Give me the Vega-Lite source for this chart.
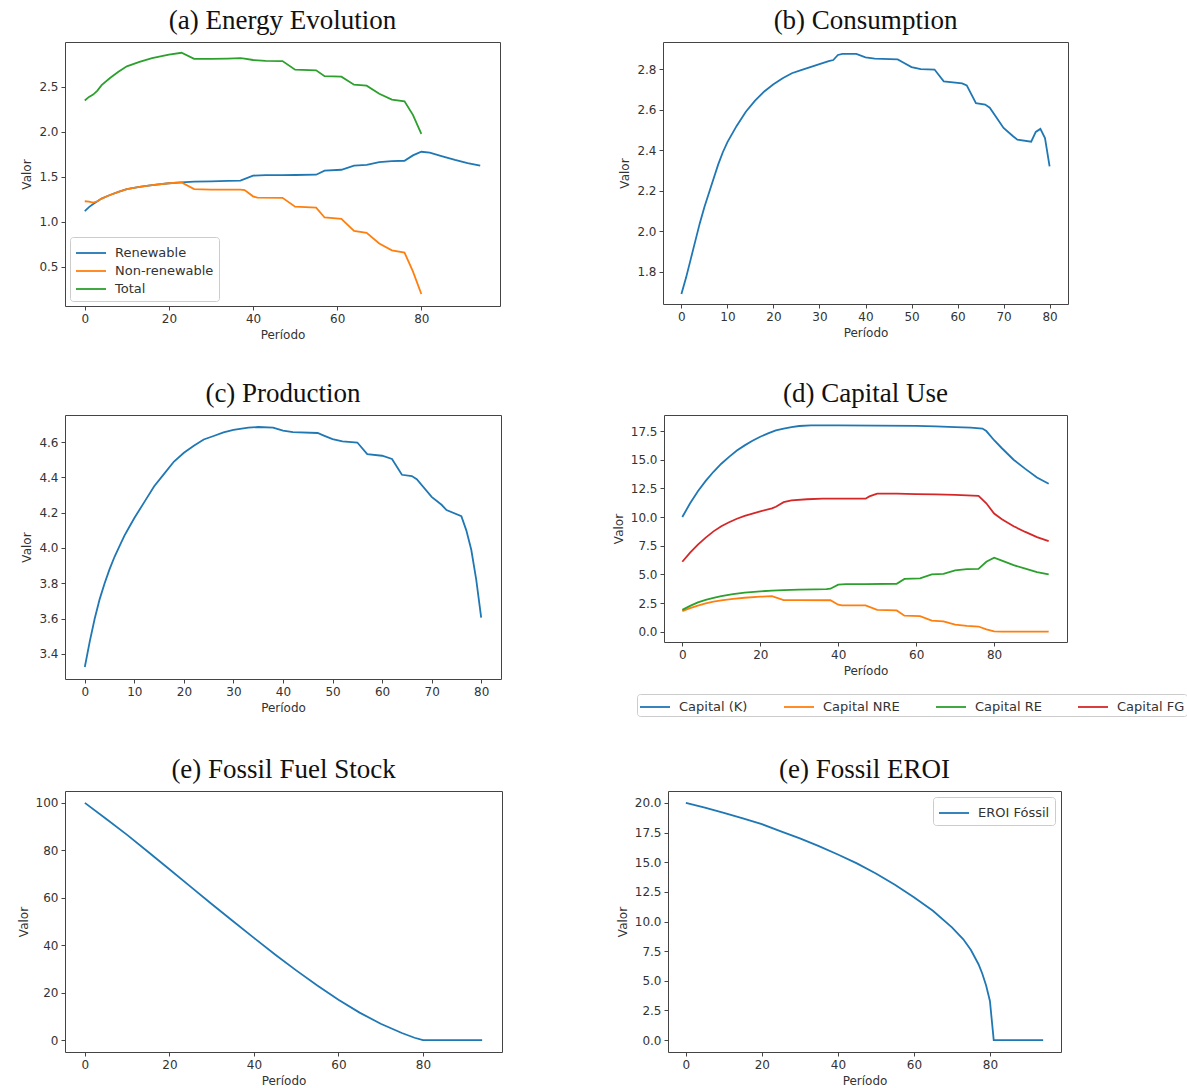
{
  "$schema": "https://vega.github.io/schema/vega-lite/v6.json",
  "background": "white",
  "padding": {"left": 16, "top": 6, "right": 2, "bottom": 0},
  "resolve": {"scale": {"color": "independent", "x": "independent", "y": "independent"}, "legend": {"color": "independent"}},
  "config": {
    "view": {"stroke": "#444", "strokeWidth": 1},
    "axis": {"grid": false, "domain": false, "tickColor": "#444", "tickSize": 4, "labelFont": "DejaVu Sans", "labelFontSize": 12, "labelColor": "#333", "titleFont": "DejaVu Sans", "titleFontSize": 12, "titleFontWeight": "normal", "titleColor": "#333", "labelPadding": 3, "titlePadding": 5},
    "title": {"font": "Liberation Serif", "fontSize": 27, "fontWeight": "normal", "color": "#111", "offset": 7, "frame": "group", "anchor": "middle"},
    "legend": {"labelFont": "DejaVu Sans", "labelFontSize": 13, "labelColor": "#333", "symbolType": "M-1,0L2,0", "symbolSize": 400, "symbolStrokeWidth": 2, "strokeColor": "#ccc", "fillColor": "white", "cornerRadius": 3, "padding": 5, "rowPadding": -3, "labelOffset": 18, "title": null},
    "line": {"strokeWidth": 1.8}
  },
  "datasets": {
    "energia": [
      {"Periodo": 0, "Serie": "Renewable", "Valor": 1.12}, {"Periodo": 1, "Serie": "Renewable", "Valor": 1.165}, {"Periodo": 2, "Serie": "Renewable", "Valor": 1.2}, {"Periodo": 3, "Serie": "Renewable", "Valor": 1.23}, {"Periodo": 4, "Serie": "Renewable", "Valor": 1.26}, {"Periodo": 6, "Serie": "Renewable", "Valor": 1.3}, {"Periodo": 8, "Serie": "Renewable", "Valor": 1.335}, {"Periodo": 10, "Serie": "Renewable", "Valor": 1.365}, {"Periodo": 13, "Serie": "Renewable", "Valor": 1.39}, {"Periodo": 16, "Serie": "Renewable", "Valor": 1.41}, {"Periodo": 20, "Serie": "Renewable", "Valor": 1.43}, {"Periodo": 23, "Serie": "Renewable", "Valor": 1.44}, {"Periodo": 26, "Serie": "Renewable", "Valor": 1.448}, {"Periodo": 30, "Serie": "Renewable", "Valor": 1.452}, {"Periodo": 34, "Serie": "Renewable", "Valor": 1.456}, {"Periodo": 37, "Serie": "Renewable", "Valor": 1.46}, {"Periodo": 40, "Serie": "Renewable", "Valor": 1.515}, {"Periodo": 43, "Serie": "Renewable", "Valor": 1.52}, {"Periodo": 47, "Serie": "Renewable", "Valor": 1.52}, {"Periodo": 50, "Serie": "Renewable", "Valor": 1.522}, {"Periodo": 55, "Serie": "Renewable", "Valor": 1.525}, {"Periodo": 57, "Serie": "Renewable", "Valor": 1.57}, {"Periodo": 61, "Serie": "Renewable", "Valor": 1.58}, {"Periodo": 64, "Serie": "Renewable", "Valor": 1.625}, {"Periodo": 67, "Serie": "Renewable", "Valor": 1.635}, {"Periodo": 70, "Serie": "Renewable", "Valor": 1.665}, {"Periodo": 73, "Serie": "Renewable", "Valor": 1.675}, {"Periodo": 76, "Serie": "Renewable", "Valor": 1.68}, {"Periodo": 78, "Serie": "Renewable", "Valor": 1.74}, {"Periodo": 80, "Serie": "Renewable", "Valor": 1.78}, {"Periodo": 82, "Serie": "Renewable", "Valor": 1.77}, {"Periodo": 85, "Serie": "Renewable", "Valor": 1.73}, {"Periodo": 88, "Serie": "Renewable", "Valor": 1.69}, {"Periodo": 91, "Serie": "Renewable", "Valor": 1.655}, {"Periodo": 94, "Serie": "Renewable", "Valor": 1.625},
      {"Periodo": 0, "Serie": "Non-renewable", "Valor": 1.23}, {"Periodo": 1, "Serie": "Non-renewable", "Valor": 1.225}, {"Periodo": 2, "Serie": "Non-renewable", "Valor": 1.215}, {"Periodo": 3, "Serie": "Non-renewable", "Valor": 1.23}, {"Periodo": 4, "Serie": "Non-renewable", "Valor": 1.26}, {"Periodo": 6, "Serie": "Non-renewable", "Valor": 1.3}, {"Periodo": 8, "Serie": "Non-renewable", "Valor": 1.335}, {"Periodo": 10, "Serie": "Non-renewable", "Valor": 1.365}, {"Periodo": 13, "Serie": "Non-renewable", "Valor": 1.39}, {"Periodo": 16, "Serie": "Non-renewable", "Valor": 1.41}, {"Periodo": 20, "Serie": "Non-renewable", "Valor": 1.43}, {"Periodo": 23, "Serie": "Non-renewable", "Valor": 1.44}, {"Periodo": 26, "Serie": "Non-renewable", "Valor": 1.365}, {"Periodo": 30, "Serie": "Non-renewable", "Valor": 1.36}, {"Periodo": 34, "Serie": "Non-renewable", "Valor": 1.36}, {"Periodo": 37, "Serie": "Non-renewable", "Valor": 1.36}, {"Periodo": 38, "Serie": "Non-renewable", "Valor": 1.355}, {"Periodo": 40, "Serie": "Non-renewable", "Valor": 1.285}, {"Periodo": 41, "Serie": "Non-renewable", "Valor": 1.27}, {"Periodo": 47, "Serie": "Non-renewable", "Valor": 1.268}, {"Periodo": 50, "Serie": "Non-renewable", "Valor": 1.17}, {"Periodo": 55, "Serie": "Non-renewable", "Valor": 1.16}, {"Periodo": 57, "Serie": "Non-renewable", "Valor": 1.05}, {"Periodo": 61, "Serie": "Non-renewable", "Valor": 1.035}, {"Periodo": 64, "Serie": "Non-renewable", "Valor": 0.9}, {"Periodo": 67, "Serie": "Non-renewable", "Valor": 0.88}, {"Periodo": 70, "Serie": "Non-renewable", "Valor": 0.76}, {"Periodo": 73, "Serie": "Non-renewable", "Valor": 0.685}, {"Periodo": 76, "Serie": "Non-renewable", "Valor": 0.66}, {"Periodo": 78, "Serie": "Non-renewable", "Valor": 0.45}, {"Periodo": 80, "Serie": "Non-renewable", "Valor": 0.2},
      {"Periodo": 0, "Serie": "Total", "Valor": 2.35}, {"Periodo": 1, "Serie": "Total", "Valor": 2.39}, {"Periodo": 2, "Serie": "Total", "Valor": 2.415}, {"Periodo": 3, "Serie": "Total", "Valor": 2.46}, {"Periodo": 4, "Serie": "Total", "Valor": 2.52}, {"Periodo": 6, "Serie": "Total", "Valor": 2.6}, {"Periodo": 8, "Serie": "Total", "Valor": 2.67}, {"Periodo": 10, "Serie": "Total", "Valor": 2.73}, {"Periodo": 13, "Serie": "Total", "Valor": 2.78}, {"Periodo": 16, "Serie": "Total", "Valor": 2.82}, {"Periodo": 20, "Serie": "Total", "Valor": 2.86}, {"Periodo": 23, "Serie": "Total", "Valor": 2.88}, {"Periodo": 26, "Serie": "Total", "Valor": 2.813}, {"Periodo": 30, "Serie": "Total", "Valor": 2.812}, {"Periodo": 34, "Serie": "Total", "Valor": 2.816}, {"Periodo": 37, "Serie": "Total", "Valor": 2.82}, {"Periodo": 38, "Serie": "Total", "Valor": 2.815}, {"Periodo": 40, "Serie": "Total", "Valor": 2.8}, {"Periodo": 43, "Serie": "Total", "Valor": 2.79}, {"Periodo": 47, "Serie": "Total", "Valor": 2.788}, {"Periodo": 50, "Serie": "Total", "Valor": 2.692}, {"Periodo": 55, "Serie": "Total", "Valor": 2.685}, {"Periodo": 57, "Serie": "Total", "Valor": 2.62}, {"Periodo": 61, "Serie": "Total", "Valor": 2.615}, {"Periodo": 64, "Serie": "Total", "Valor": 2.525}, {"Periodo": 67, "Serie": "Total", "Valor": 2.515}, {"Periodo": 70, "Serie": "Total", "Valor": 2.425}, {"Periodo": 73, "Serie": "Total", "Valor": 2.36}, {"Periodo": 76, "Serie": "Total", "Valor": 2.34}, {"Periodo": 78, "Serie": "Total", "Valor": 2.19}, {"Periodo": 80, "Serie": "Total", "Valor": 1.98}
    ],
    "consumo": [
      {"Periodo": 0, "Valor": 1.69}, {"Periodo": 1, "Valor": 1.77}, {"Periodo": 2, "Valor": 1.86}, {"Periodo": 3, "Valor": 1.95}, {"Periodo": 4, "Valor": 2.04}, {"Periodo": 5, "Valor": 2.12}, {"Periodo": 6, "Valor": 2.19}, {"Periodo": 7, "Valor": 2.26}, {"Periodo": 8, "Valor": 2.33}, {"Periodo": 9, "Valor": 2.39}, {"Periodo": 10, "Valor": 2.44}, {"Periodo": 12, "Valor": 2.52}, {"Periodo": 14, "Valor": 2.59}, {"Periodo": 16, "Valor": 2.645}, {"Periodo": 18, "Valor": 2.69}, {"Periodo": 20, "Valor": 2.725}, {"Periodo": 22, "Valor": 2.755}, {"Periodo": 24, "Valor": 2.78}, {"Periodo": 26, "Valor": 2.795}, {"Periodo": 28, "Valor": 2.81}, {"Periodo": 30, "Valor": 2.825}, {"Periodo": 32, "Valor": 2.84}, {"Periodo": 33, "Valor": 2.845}, {"Periodo": 34, "Valor": 2.87}, {"Periodo": 35, "Valor": 2.875}, {"Periodo": 38, "Valor": 2.875}, {"Periodo": 40, "Valor": 2.858}, {"Periodo": 42, "Valor": 2.852}, {"Periodo": 47, "Valor": 2.848}, {"Periodo": 48, "Valor": 2.835}, {"Periodo": 50, "Valor": 2.81}, {"Periodo": 52, "Valor": 2.8}, {"Periodo": 55, "Valor": 2.798}, {"Periodo": 57, "Valor": 2.74}, {"Periodo": 61, "Valor": 2.73}, {"Periodo": 62, "Valor": 2.72}, {"Periodo": 64, "Valor": 2.632}, {"Periodo": 66, "Valor": 2.625}, {"Periodo": 67, "Valor": 2.61}, {"Periodo": 70, "Valor": 2.51}, {"Periodo": 72, "Valor": 2.47}, {"Periodo": 73, "Valor": 2.452}, {"Periodo": 76, "Valor": 2.442}, {"Periodo": 77, "Valor": 2.49}, {"Periodo": 78, "Valor": 2.505}, {"Periodo": 79, "Valor": 2.46}, {"Periodo": 80, "Valor": 2.32}
    ],
    "producao": [
      {"Periodo": 0, "Valor": 3.325}, {"Periodo": 1, "Valor": 3.47}, {"Periodo": 2, "Valor": 3.6}, {"Periodo": 3, "Valor": 3.71}, {"Periodo": 4, "Valor": 3.8}, {"Periodo": 5, "Valor": 3.88}, {"Periodo": 6, "Valor": 3.95}, {"Periodo": 7, "Valor": 4.01}, {"Periodo": 8, "Valor": 4.07}, {"Periodo": 9, "Valor": 4.12}, {"Periodo": 10, "Valor": 4.17}, {"Periodo": 12, "Valor": 4.26}, {"Periodo": 14, "Valor": 4.35}, {"Periodo": 16, "Valor": 4.42}, {"Periodo": 18, "Valor": 4.49}, {"Periodo": 20, "Valor": 4.54}, {"Periodo": 22, "Valor": 4.58}, {"Periodo": 24, "Valor": 4.615}, {"Periodo": 26, "Valor": 4.635}, {"Periodo": 28, "Valor": 4.655}, {"Periodo": 30, "Valor": 4.67}, {"Periodo": 33, "Valor": 4.682}, {"Periodo": 35, "Valor": 4.686}, {"Periodo": 38, "Valor": 4.683}, {"Periodo": 40, "Valor": 4.665}, {"Periodo": 42, "Valor": 4.657}, {"Periodo": 47, "Valor": 4.652}, {"Periodo": 48, "Valor": 4.64}, {"Periodo": 50, "Valor": 4.617}, {"Periodo": 52, "Valor": 4.605}, {"Periodo": 55, "Valor": 4.598}, {"Periodo": 57, "Valor": 4.532}, {"Periodo": 60, "Valor": 4.523}, {"Periodo": 62, "Valor": 4.505}, {"Periodo": 64, "Valor": 4.415}, {"Periodo": 66, "Valor": 4.408}, {"Periodo": 67, "Valor": 4.39}, {"Periodo": 70, "Valor": 4.29}, {"Periodo": 72, "Valor": 4.245}, {"Periodo": 73, "Valor": 4.215}, {"Periodo": 76, "Valor": 4.18}, {"Periodo": 77, "Valor": 4.1}, {"Periodo": 78, "Valor": 3.99}, {"Periodo": 79, "Valor": 3.82}, {"Periodo": 80, "Valor": 3.605}
    ],
    "capital": [
      {"Periodo": 0, "Serie": "Capital (K)", "Valor": 10.0}, {"Periodo": 2, "Serie": "Capital (K)", "Valor": 11.2}, {"Periodo": 4, "Serie": "Capital (K)", "Valor": 12.25}, {"Periodo": 6, "Serie": "Capital (K)", "Valor": 13.15}, {"Periodo": 8, "Serie": "Capital (K)", "Valor": 13.95}, {"Periodo": 10, "Serie": "Capital (K)", "Valor": 14.65}, {"Periodo": 12, "Serie": "Capital (K)", "Valor": 15.25}, {"Periodo": 14, "Serie": "Capital (K)", "Valor": 15.8}, {"Periodo": 16, "Serie": "Capital (K)", "Valor": 16.25}, {"Periodo": 18, "Serie": "Capital (K)", "Valor": 16.65}, {"Periodo": 20, "Serie": "Capital (K)", "Valor": 17.0}, {"Periodo": 22, "Serie": "Capital (K)", "Valor": 17.3}, {"Periodo": 24, "Serie": "Capital (K)", "Valor": 17.55}, {"Periodo": 26, "Serie": "Capital (K)", "Valor": 17.72}, {"Periodo": 28, "Serie": "Capital (K)", "Valor": 17.85}, {"Periodo": 30, "Serie": "Capital (K)", "Valor": 17.94}, {"Periodo": 33, "Serie": "Capital (K)", "Valor": 18.0}, {"Periodo": 40, "Serie": "Capital (K)", "Valor": 18.0}, {"Periodo": 50, "Serie": "Capital (K)", "Valor": 17.98}, {"Periodo": 60, "Serie": "Capital (K)", "Valor": 17.95}, {"Periodo": 65, "Serie": "Capital (K)", "Valor": 17.9}, {"Periodo": 70, "Serie": "Capital (K)", "Valor": 17.85}, {"Periodo": 74, "Serie": "Capital (K)", "Valor": 17.8}, {"Periodo": 77, "Serie": "Capital (K)", "Valor": 17.72}, {"Periodo": 78, "Serie": "Capital (K)", "Valor": 17.5}, {"Periodo": 80, "Serie": "Capital (K)", "Valor": 16.7}, {"Periodo": 82, "Serie": "Capital (K)", "Valor": 16.0}, {"Periodo": 85, "Serie": "Capital (K)", "Valor": 15.0}, {"Periodo": 88, "Serie": "Capital (K)", "Valor": 14.2}, {"Periodo": 91, "Serie": "Capital (K)", "Valor": 13.45}, {"Periodo": 94, "Serie": "Capital (K)", "Valor": 12.9},
      {"Periodo": 0, "Serie": "Capital NRE", "Valor": 1.8}, {"Periodo": 2, "Serie": "Capital NRE", "Valor": 2.05}, {"Periodo": 4, "Serie": "Capital NRE", "Valor": 2.28}, {"Periodo": 6, "Serie": "Capital NRE", "Valor": 2.47}, {"Periodo": 8, "Serie": "Capital NRE", "Valor": 2.62}, {"Periodo": 10, "Serie": "Capital NRE", "Valor": 2.74}, {"Periodo": 13, "Serie": "Capital NRE", "Valor": 2.87}, {"Periodo": 16, "Serie": "Capital NRE", "Valor": 2.96}, {"Periodo": 20, "Serie": "Capital NRE", "Valor": 3.05}, {"Periodo": 23, "Serie": "Capital NRE", "Valor": 3.1}, {"Periodo": 26, "Serie": "Capital NRE", "Valor": 2.75}, {"Periodo": 30, "Serie": "Capital NRE", "Valor": 2.75}, {"Periodo": 38, "Serie": "Capital NRE", "Valor": 2.74}, {"Periodo": 40, "Serie": "Capital NRE", "Valor": 2.35}, {"Periodo": 41, "Serie": "Capital NRE", "Valor": 2.3}, {"Periodo": 47, "Serie": "Capital NRE", "Valor": 2.3}, {"Periodo": 50, "Serie": "Capital NRE", "Valor": 1.9}, {"Periodo": 55, "Serie": "Capital NRE", "Valor": 1.85}, {"Periodo": 57, "Serie": "Capital NRE", "Valor": 1.4}, {"Periodo": 61, "Serie": "Capital NRE", "Valor": 1.35}, {"Periodo": 64, "Serie": "Capital NRE", "Valor": 0.97}, {"Periodo": 67, "Serie": "Capital NRE", "Valor": 0.9}, {"Periodo": 70, "Serie": "Capital NRE", "Valor": 0.62}, {"Periodo": 73, "Serie": "Capital NRE", "Valor": 0.5}, {"Periodo": 76, "Serie": "Capital NRE", "Valor": 0.45}, {"Periodo": 78, "Serie": "Capital NRE", "Valor": 0.2}, {"Periodo": 80, "Serie": "Capital NRE", "Valor": 0.03}, {"Periodo": 82, "Serie": "Capital NRE", "Valor": 0.0}, {"Periodo": 94, "Serie": "Capital NRE", "Valor": 0.0},
      {"Periodo": 0, "Serie": "Capital RE", "Valor": 1.9}, {"Periodo": 2, "Serie": "Capital RE", "Valor": 2.25}, {"Periodo": 4, "Serie": "Capital RE", "Valor": 2.55}, {"Periodo": 6, "Serie": "Capital RE", "Valor": 2.78}, {"Periodo": 8, "Serie": "Capital RE", "Valor": 2.95}, {"Periodo": 10, "Serie": "Capital RE", "Valor": 3.1}, {"Periodo": 13, "Serie": "Capital RE", "Valor": 3.27}, {"Periodo": 16, "Serie": "Capital RE", "Valor": 3.4}, {"Periodo": 20, "Serie": "Capital RE", "Valor": 3.52}, {"Periodo": 23, "Serie": "Capital RE", "Valor": 3.58}, {"Periodo": 26, "Serie": "Capital RE", "Valor": 3.63}, {"Periodo": 30, "Serie": "Capital RE", "Valor": 3.66}, {"Periodo": 34, "Serie": "Capital RE", "Valor": 3.69}, {"Periodo": 37, "Serie": "Capital RE", "Valor": 3.71}, {"Periodo": 38, "Serie": "Capital RE", "Valor": 3.75}, {"Periodo": 40, "Serie": "Capital RE", "Valor": 4.1}, {"Periodo": 42, "Serie": "Capital RE", "Valor": 4.15}, {"Periodo": 47, "Serie": "Capital RE", "Valor": 4.15}, {"Periodo": 55, "Serie": "Capital RE", "Valor": 4.18}, {"Periodo": 57, "Serie": "Capital RE", "Valor": 4.6}, {"Periodo": 61, "Serie": "Capital RE", "Valor": 4.65}, {"Periodo": 64, "Serie": "Capital RE", "Valor": 5.0}, {"Periodo": 67, "Serie": "Capital RE", "Valor": 5.05}, {"Periodo": 70, "Serie": "Capital RE", "Valor": 5.35}, {"Periodo": 73, "Serie": "Capital RE", "Valor": 5.45}, {"Periodo": 76, "Serie": "Capital RE", "Valor": 5.48}, {"Periodo": 78, "Serie": "Capital RE", "Valor": 6.1}, {"Periodo": 80, "Serie": "Capital RE", "Valor": 6.45}, {"Periodo": 82, "Serie": "Capital RE", "Valor": 6.2}, {"Periodo": 85, "Serie": "Capital RE", "Valor": 5.8}, {"Periodo": 88, "Serie": "Capital RE", "Valor": 5.5}, {"Periodo": 91, "Serie": "Capital RE", "Valor": 5.2}, {"Periodo": 94, "Serie": "Capital RE", "Valor": 5.0},
      {"Periodo": 0, "Serie": "Capital FG", "Valor": 6.1}, {"Periodo": 2, "Serie": "Capital FG", "Valor": 6.9}, {"Periodo": 4, "Serie": "Capital FG", "Valor": 7.6}, {"Periodo": 6, "Serie": "Capital FG", "Valor": 8.2}, {"Periodo": 8, "Serie": "Capital FG", "Valor": 8.75}, {"Periodo": 10, "Serie": "Capital FG", "Valor": 9.2}, {"Periodo": 12, "Serie": "Capital FG", "Valor": 9.55}, {"Periodo": 14, "Serie": "Capital FG", "Valor": 9.85}, {"Periodo": 16, "Serie": "Capital FG", "Valor": 10.1}, {"Periodo": 18, "Serie": "Capital FG", "Valor": 10.3}, {"Periodo": 20, "Serie": "Capital FG", "Valor": 10.5}, {"Periodo": 23, "Serie": "Capital FG", "Valor": 10.75}, {"Periodo": 24, "Serie": "Capital FG", "Valor": 10.9}, {"Periodo": 26, "Serie": "Capital FG", "Valor": 11.3}, {"Periodo": 28, "Serie": "Capital FG", "Valor": 11.45}, {"Periodo": 32, "Serie": "Capital FG", "Valor": 11.55}, {"Periodo": 36, "Serie": "Capital FG", "Valor": 11.6}, {"Periodo": 47, "Serie": "Capital FG", "Valor": 11.6}, {"Periodo": 48, "Serie": "Capital FG", "Valor": 11.8}, {"Periodo": 50, "Serie": "Capital FG", "Valor": 12.05}, {"Periodo": 55, "Serie": "Capital FG", "Valor": 12.05}, {"Periodo": 60, "Serie": "Capital FG", "Valor": 12.0}, {"Periodo": 65, "Serie": "Capital FG", "Valor": 11.98}, {"Periodo": 70, "Serie": "Capital FG", "Valor": 11.93}, {"Periodo": 76, "Serie": "Capital FG", "Valor": 11.85}, {"Periodo": 78, "Serie": "Capital FG", "Valor": 11.2}, {"Periodo": 80, "Serie": "Capital FG", "Valor": 10.3}, {"Periodo": 82, "Serie": "Capital FG", "Valor": 9.8}, {"Periodo": 85, "Serie": "Capital FG", "Valor": 9.2}, {"Periodo": 88, "Serie": "Capital FG", "Valor": 8.7}, {"Periodo": 91, "Serie": "Capital FG", "Valor": 8.25}, {"Periodo": 94, "Serie": "Capital FG", "Valor": 7.9}
    ],
    "estoque": [
      {"Periodo": 0, "Valor": 100}, {"Periodo": 5, "Valor": 93.3}, {"Periodo": 10, "Valor": 86.5}, {"Periodo": 15, "Valor": 79.3}, {"Periodo": 20, "Valor": 72.0}, {"Periodo": 25, "Valor": 64.7}, {"Periodo": 30, "Valor": 57.4}, {"Periodo": 35, "Valor": 50.2}, {"Periodo": 40, "Valor": 43.1}, {"Periodo": 45, "Valor": 36.1}, {"Periodo": 50, "Valor": 29.4}, {"Periodo": 55, "Valor": 23.0}, {"Periodo": 60, "Valor": 17.0}, {"Periodo": 65, "Valor": 11.6}, {"Periodo": 70, "Valor": 6.9}, {"Periodo": 75, "Valor": 3.0}, {"Periodo": 78, "Valor": 1.0}, {"Periodo": 80, "Valor": 0.0}, {"Periodo": 94, "Valor": 0.0}
    ],
    "eroi": [
      {"Periodo": 0, "Serie": "EROI Fóssil", "Valor": 20.0}, {"Periodo": 5, "Serie": "EROI Fóssil", "Valor": 19.6}, {"Periodo": 10, "Serie": "EROI Fóssil", "Valor": 19.15}, {"Periodo": 15, "Serie": "EROI Fóssil", "Valor": 18.7}, {"Periodo": 20, "Serie": "EROI Fóssil", "Valor": 18.2}, {"Periodo": 25, "Serie": "EROI Fóssil", "Valor": 17.6}, {"Periodo": 30, "Serie": "EROI Fóssil", "Valor": 17.0}, {"Periodo": 35, "Serie": "EROI Fóssil", "Valor": 16.35}, {"Periodo": 40, "Serie": "EROI Fóssil", "Valor": 15.65}, {"Periodo": 45, "Serie": "EROI Fóssil", "Valor": 14.9}, {"Periodo": 50, "Serie": "EROI Fóssil", "Valor": 14.05}, {"Periodo": 55, "Serie": "EROI Fóssil", "Valor": 13.1}, {"Periodo": 60, "Serie": "EROI Fóssil", "Valor": 12.05}, {"Periodo": 65, "Serie": "EROI Fóssil", "Valor": 10.9}, {"Periodo": 70, "Serie": "EROI Fóssil", "Valor": 9.5}, {"Periodo": 73, "Serie": "EROI Fóssil", "Valor": 8.5}, {"Periodo": 75, "Serie": "EROI Fóssil", "Valor": 7.6}, {"Periodo": 77, "Serie": "EROI Fóssil", "Valor": 6.4}, {"Periodo": 78, "Serie": "EROI Fóssil", "Valor": 5.6}, {"Periodo": 79, "Serie": "EROI Fóssil", "Valor": 4.6}, {"Periodo": 80, "Serie": "EROI Fóssil", "Valor": 3.3}, {"Periodo": 81, "Serie": "EROI Fóssil", "Valor": 0.0}, {"Periodo": 94, "Serie": "EROI Fóssil", "Valor": 0.0}
    ]
  },
  "spacing": 38,
  "vconcat": [
    {
      "spacing": 117,
      "resolve": {"scale": {"color": "independent", "x": "independent", "y": "independent"}, "legend": {"color": "independent"}},
      "hconcat": [
        {
          "title": "(a) Energy Evolution",
          "width": 435, "height": 264,
          "data": {"name": "energia"},
          "mark": {"type": "line", "strokeWidth": 1.8},
          "encoding": {
            "x": {"field": "Periodo", "type": "quantitative", "scale": {"domain": [-4.7, 98.7], "nice": false, "zero": false}, "axis": {"title": "Período", "values": [0, 20, 40, 60, 80]}},
            "y": {"field": "Valor", "type": "quantitative", "scale": {"domain": [0.066, 3.0], "nice": false, "zero": false}, "axis": {"title": "Valor", "values": [0.5, 1.0, 1.5, 2.0, 2.5], "format": ".1f"}},
            "color": {"field": "Serie", "type": "nominal", "scale": {"domain": ["Renewable", "Non-renewable", "Total"], "range": ["#1f77b4", "#ff7f0e", "#2ca02c"]}, "legend": {"orient": "bottom-left", "offset": 5}}
          }
        },
        {
          "title": "(b) Consumption",
          "width": 405, "height": 262,
          "data": {"name": "consumo"},
          "mark": {"type": "line", "strokeWidth": 1.8, "color": "#1f77b4"},
          "encoding": {
            "x": {"field": "Periodo", "type": "quantitative", "scale": {"domain": [-4, 84], "nice": false, "zero": false}, "axis": {"title": "Período", "values": [0, 10, 20, 30, 40, 50, 60, 70, 80]}},
            "y": {"field": "Valor", "type": "quantitative", "scale": {"domain": [1.641, 2.934], "nice": false, "zero": false}, "axis": {"title": "Valor", "values": [1.8, 2.0, 2.2, 2.4, 2.6, 2.8], "format": ".1f"}}
          }
        }
      ]
    },
    {
      "spacing": 38,
      "resolve": {"scale": {"color": "independent", "x": "independent", "y": "independent"}, "legend": {"color": "independent"}},
      "vconcat": [
        {
          "spacing": 109,
          "resolve": {"scale": {"color": "independent", "x": "independent", "y": "independent"}, "legend": {"color": "independent"}},
          "hconcat": [
            {
              "title": "(c) Production",
              "width": 436, "height": 264,
              "data": {"name": "producao"},
              "mark": {"type": "line", "strokeWidth": 1.8, "color": "#1f77b4"},
              "encoding": {
                "x": {"field": "Periodo", "type": "quantitative", "scale": {"domain": [-4, 84], "nice": false, "zero": false}, "axis": {"title": "Período", "values": [0, 10, 20, 30, 40, 50, 60, 70, 80]}},
                "y": {"field": "Valor", "type": "quantitative", "scale": {"domain": [3.257, 4.754], "nice": false, "zero": false}, "axis": {"title": "Valor", "values": [3.4, 3.6, 3.8, 4.0, 4.2, 4.4, 4.6], "format": ".1f"}}
              }
            },
            {
              "title": "(d) Capital Use",
              "width": 403, "height": 227,
              "data": {"name": "capital"},
              "mark": {"type": "line", "strokeWidth": 1.8},
              "encoding": {
                "x": {"field": "Periodo", "type": "quantitative", "scale": {"domain": [-4.7, 98.7], "nice": false, "zero": false}, "axis": {"title": "Período", "values": [0, 20, 40, 60, 80]}},
                "y": {"field": "Valor", "type": "quantitative", "scale": {"domain": [-0.9, 18.9], "nice": false, "zero": false}, "axis": {"title": "Valor", "values": [0, 2.5, 5, 7.5, 10, 12.5, 15, 17.5], "format": ".1f"}},
                "color": {"field": "Serie", "type": "nominal", "scale": {"domain": ["Capital (K)", "Capital NRE", "Capital RE", "Capital FG"], "range": ["#1f77b4", "#ff7f0e", "#2ca02c", "#d62728"]}, "legend": {"orient": "none", "direction": "horizontal", "legendX": -27, "legendY": 279, "columnPadding": 32, "padding": 2}}
              }
            }
          ]
        },
        {
          "spacing": 112,
          "resolve": {"scale": {"color": "independent", "x": "independent", "y": "independent"}, "legend": {"color": "independent"}},
          "hconcat": [
            {
              "title": "(e) Fossil Fuel Stock",
              "width": 437, "height": 261,
              "data": {"name": "estoque"},
              "mark": {"type": "line", "strokeWidth": 1.8, "color": "#1f77b4"},
              "encoding": {
                "x": {"field": "Periodo", "type": "quantitative", "scale": {"domain": [-4.7, 98.7], "nice": false, "zero": false}, "axis": {"title": "Período", "values": [0, 20, 40, 60, 80]}},
                "y": {"field": "Valor", "type": "quantitative", "scale": {"domain": [-5, 105], "nice": false, "zero": false}, "axis": {"title": "Valor", "values": [0, 20, 40, 60, 80, 100], "format": "d"}}
              }
            },
            {
              "title": "(e) Fossil EROI",
              "width": 393, "height": 261,
              "data": {"name": "eroi"},
              "mark": {"type": "line", "strokeWidth": 1.8},
              "encoding": {
                "x": {"field": "Periodo", "type": "quantitative", "scale": {"domain": [-4.7, 98.7], "nice": false, "zero": false}, "axis": {"title": "Período", "values": [0, 20, 40, 60, 80]}},
                "y": {"field": "Valor", "type": "quantitative", "scale": {"domain": [-1, 21], "nice": false, "zero": false}, "axis": {"title": "Valor", "values": [0, 2.5, 5, 7.5, 10, 12.5, 15, 17.5, 20], "format": ".1f"}},
                "color": {"field": "Serie", "type": "nominal", "scale": {"domain": ["EROI Fóssil"], "range": ["#1f77b4"]}, "legend": {"orient": "top-right", "offset": 6}}
              }
            }
          ]
        }
      ]
    }
  ]
}
